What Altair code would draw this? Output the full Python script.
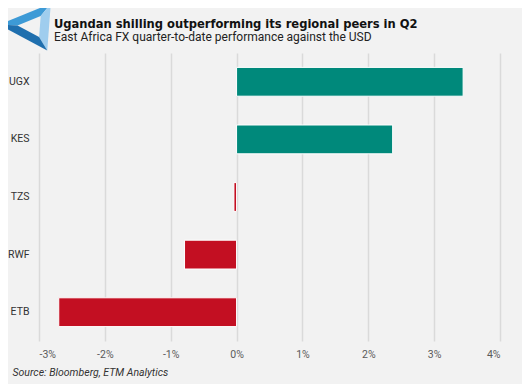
import altair as alt
import pandas as pd

currencies = ["UGX", "KES", "TZS", "RWF", "ETB"]
performance = [3.44, 2.37, -0.04, -0.79, -2.70]
x_ticks = [-3, -2, -1, 0, 1, 2, 3, 4]

title_text = "Ugandan shilling outperforming its regional peers in Q2"
subtitle_text = "East Africa FX quarter-to-date performance against the USD"
source_text = "Source: Bloomberg, ETM Analytics"

df = pd.DataFrame({"ccy": currencies, "perf": performance})
df["sign"] = ["pos" if v >= 0 else "neg" for v in performance]

FONT = "DejaVu Sans Condensed, Roboto, sans-serif"
BODY = "Roboto, Liberation Sans, sans-serif"

bars = alt.Chart(df).mark_bar(stroke="white", strokeWidth=1).encode(
    x=alt.X("perf:Q",
            scale=alt.Scale(domain=[-3, 4], nice=False, zero=False),
            axis=alt.Axis(values=x_ticks, labelExpr="datum.value + '%'", title=None,
                          ticks=False, domain=False, grid=True, gridColor="#dadada",
                          gridWidth=1.5, labelColor="#5a5a5a", labelFontSize=10.5,
                          labelFont=BODY, labelPadding=8)),
    y=alt.Y("ccy:N", sort=currencies,
            scale=alt.Scale(paddingInner=0.5, paddingOuter=0.25),
            axis=alt.Axis(title=None, ticks=False, domain=False, labelColor="#333333",
                          labelFontSize=10.5, labelFont=BODY, labelPadding=10)),
    color=alt.Color("sign:N", scale=alt.Scale(domain=["pos", "neg"], range=["#00897b", "#c30f22"]),
                    legend=None),
)

one = alt.Data(values=[{}])

title = alt.Chart(one).mark_text(align="left", baseline="alphabetic", font=FONT,
                                 fontWeight="bold", fontSize=12.8, color="#111111").encode(
    x=alt.value(15), y=alt.value(-25.5), text=alt.value(title_text))
subtitle = alt.Chart(one).mark_text(align="left", baseline="alphabetic", font=BODY,
                                    fontSize=12, color="#222222").encode(
    x=alt.value(15), y=alt.value(-11.8), text=alt.value(subtitle_text))
source = alt.Chart(one).mark_text(align="left", baseline="alphabetic", font=BODY,
                                  fontStyle="italic", fontSize=10.5, color="#333333").encode(
    x=alt.value(-26.5), y=alt.value(322.5), text=alt.value(source_text))

top_bar = "M-22,-2L22,-20L13.4,-9.4L-6.4,-1.3Z"
right_bar = "M22,-20L19,20L12,8.6L13.4,-9.4Z"
bottom_bar = "M19,20L-22,-2L-6.4,-1.3L12,8.6Z"

def logo_part(path, colour):
    return alt.Chart(one).mark_point(shape=path, size=5.5, filled=True, fill=colour,
                                     opacity=1, strokeWidth=0).encode(
        x=alt.value(-14), y=alt.value(-26))

logo = logo_part(top_bar, "#3d9ad6") + logo_part(right_bar, "#9fcdee") + logo_part(bottom_bar, "#1f6fae")

chart = alt.layer(bars, title, subtitle, source, logo).properties(
    width=461, height=288,
    autosize=alt.AutoSizeParams(type="none"),
    padding={"left": 31, "top": 45, "right": 22, "bottom": 43},
    background="#f2f2f2",
).configure_view(stroke=None)

chart.save("out.html", embed_options={"renderer": "svg", "actions": False})
